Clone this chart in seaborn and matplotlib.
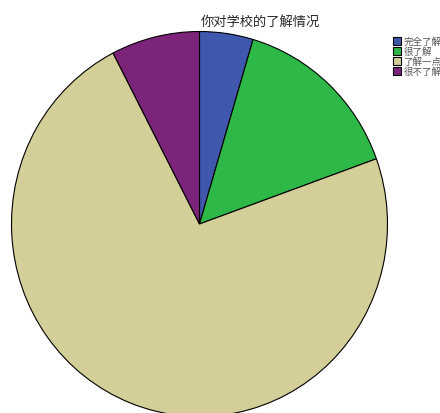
import matplotlib
matplotlib.use("Agg")
from matplotlib import pyplot as plt
import seaborn as sns

categories = ["完全了解", "很了解", "了解一点", "很不了解"]
values = [4.6, 14.9, 72.9, 7.6]
colors = ["#3f57ad", "#2eb847", "#d4cf98", "#7c2479"]
title = "你对学校的了解情况"

sns.set_style("white")
plt.rcParams['font.family'] = ['Noto Sans CJK SC', 'DejaVu Sans']

# pie centre around (200, 225) px, slightly taller than wide
cx, cy, rx, ry = 199.5, 225, 188, 192.5
fig = plt.figure(figsize=(4.4, 4.14), dpi=100)
ax = fig.add_axes([(cx - rx) / 440, (414 - cy - ry) / 414, 2 * rx / 440, 2 * ry / 414])
wedges, _ = ax.pie(values, colors=colors, startangle=90, counterclock=False,
                   radius=1.0, wedgeprops=dict(edgecolor="black", linewidth=0.8))
ax.set_xlim(-1.0, 1.0)
ax.set_ylim(-1.0, 1.0)
ax.set_aspect("auto")
ax.axis("off")

fig.text(260 / 440, 1 - 22 / 414, title, ha="center", va="center", fontsize=9.5)
fig.legend(wedges, categories, loc="upper left", bbox_to_anchor=(386 / 440, 1 - 31 / 414),
           frameon=False, fontsize=6.8, handlelength=0.85, handleheight=0.85,
           handletextpad=0.3, labelspacing=0.05, borderpad=0.2, labelcolor="#555555")

fig.savefig("out.png", dpi=100)
